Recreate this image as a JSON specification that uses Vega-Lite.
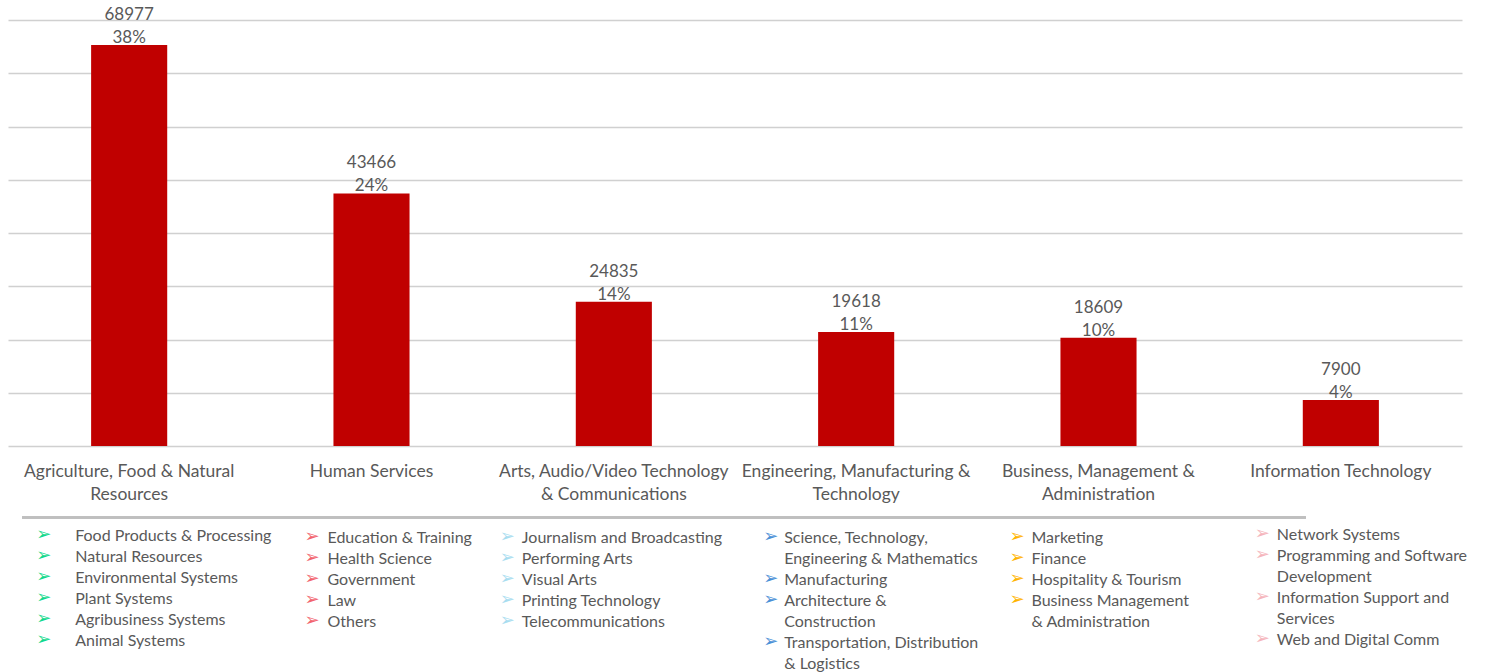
{
  "$schema": "https://vega.github.io/schema/vega-lite/v6.json",
  "autosize": {"type": "none"},
  "padding": {"left": 8, "top": 20, "right": 25, "bottom": 0},
  "width": 1454,
  "height": 652,
  "background": "white",
  "config": {"font": "Lato", "view": {"stroke": null}},
  "datasets": {
    "bars": [
      {"category": "Agriculture, Food & Natural Resources", "value": 68977, "pct": "38%"},
      {"category": "Human Services", "value": 43466, "pct": "24%"},
      {"category": "Arts, Audio/Video Technology & Communications", "value": 24835, "pct": "14%"},
      {"category": "Engineering, Manufacturing & Technology", "value": 19618, "pct": "11%"},
      {"category": "Business, Management & Administration", "value": 18609, "pct": "10%"},
      {"category": "Information Technology", "value": 7900, "pct": "4%"}
    ],
    "items": [
      {"category": "Agriculture, Food & Natural Resources", "line": 0, "item": "Food Products & Processing"},
      {"category": "Agriculture, Food & Natural Resources", "line": 1, "item": "Natural Resources"},
      {"category": "Agriculture, Food & Natural Resources", "line": 2, "item": "Environmental Systems"},
      {"category": "Agriculture, Food & Natural Resources", "line": 3, "item": "Plant Systems"},
      {"category": "Agriculture, Food & Natural Resources", "line": 4, "item": "Agribusiness Systems"},
      {"category": "Agriculture, Food & Natural Resources", "line": 5, "item": "Animal Systems"},
      {"category": "Human Services", "line": 0, "item": "Education & Training"},
      {"category": "Human Services", "line": 1, "item": "Health Science"},
      {"category": "Human Services", "line": 2, "item": "Government"},
      {"category": "Human Services", "line": 3, "item": "Law"},
      {"category": "Human Services", "line": 4, "item": "Others"},
      {"category": "Arts, Audio/Video Technology & Communications", "line": 0, "item": "Journalism and Broadcasting"},
      {"category": "Arts, Audio/Video Technology & Communications", "line": 1, "item": "Performing Arts"},
      {"category": "Arts, Audio/Video Technology & Communications", "line": 2, "item": "Visual Arts"},
      {"category": "Arts, Audio/Video Technology & Communications", "line": 3, "item": "Printing Technology"},
      {"category": "Arts, Audio/Video Technology & Communications", "line": 4, "item": "Telecommunications"},
      {"category": "Engineering, Manufacturing & Technology", "line": 0, "item": "Science, Technology,\nEngineering & Mathematics"},
      {"category": "Engineering, Manufacturing & Technology", "line": 2, "item": "Manufacturing"},
      {"category": "Engineering, Manufacturing & Technology", "line": 3, "item": "Architecture &\nConstruction"},
      {"category": "Engineering, Manufacturing & Technology", "line": 5, "item": "Transportation, Distribution\n& Logistics"},
      {"category": "Business, Management & Administration", "line": 0, "item": "Marketing"},
      {"category": "Business, Management & Administration", "line": 1, "item": "Finance"},
      {"category": "Business, Management & Administration", "line": 2, "item": "Hospitality & Tourism"},
      {"category": "Business, Management & Administration", "line": 3, "item": "Business Management\n& Administration"},
      {"category": "Information Technology", "line": 0, "item": "Network Systems"},
      {"category": "Information Technology", "line": 1, "item": "Programming and Software\nDevelopment"},
      {"category": "Information Technology", "line": 3, "item": "Information Support and\nServices"},
      {"category": "Information Technology", "line": 5, "item": "Web and Digital Comm"}
    ]
  },
  "resolve": {"scale": {"y": "independent", "color": "independent"}, "axis": {"x": "independent", "y": "independent"}},
  "layer": [
    {
      "data": {"name": "bars"},
      "encoding": {
        "x": {"field": "category", "type": "nominal", "sort": null,
          "scale": {"paddingInner": 0.686, "paddingOuter": 0.343},
          "axis": {"title": null, "orient": "bottom", "offset": -226, "domain": false, "ticks": false,
            "labelAngle": 0, "labelFontSize": 17.5, "labelColor": "#595959", "labelPadding": 16,
            "labelLineHeight": 23, "labelLimit": 300, "labelBaseline": "top",
            "labelExpr": "datum.value == 'Agriculture, Food & Natural Resources' ? ['Agriculture, Food & Natural', 'Resources'] : datum.value == 'Arts, Audio/Video Technology & Communications' ? ['Arts, Audio/Video Technology', '& Communications'] : datum.value == 'Engineering, Manufacturing & Technology' ? ['Engineering, Manufacturing &', 'Technology'] : datum.value == 'Business, Management & Administration' ? ['Business, Management &', 'Administration'] : datum.label"}},
        "y": {"field": "value", "type": "quantitative",
          "scale": {"domain": [0, 73300], "range": [426, 0], "nice": false, "zero": true},
          "axis": {"title": null, "labels": false, "ticks": false, "domain": false, "grid": true,
            "gridColor": "#D0D0D0", "gridWidth": 1.4,
            "values": [0, 9162.5, 18325, 27487.5, 36650, 45812.5, 54975, 64137.5, 73300]}}
      },
      "layer": [
        {"mark": {"type": "bar", "color": "#C00000"}},
        {"mark": {"type": "text", "baseline": "middle", "dy": -30, "fontSize": 17, "color": "#595959"},
          "encoding": {"x": {"field": "category", "type": "nominal", "sort": null, "bandPosition": 0.5}, "text": {"field": "value", "type": "quantitative", "format": "d"}}},
        {"mark": {"type": "text", "baseline": "middle", "dy": -7, "fontSize": 17, "color": "#595959"},
          "encoding": {"x": {"field": "category", "type": "nominal", "sort": null, "bandPosition": 0.5}, "text": {"field": "pct", "type": "nominal"}}}
      ]
    },
    {
      "data": {"name": "items"},
      "encoding": {
        "x": {"field": "category", "type": "nominal", "sort": null, "bandPosition": 0.5, "axis": null},
        "y": {"field": "line", "type": "quantitative", "scale": {"domain": [0, 6], "range": [508, 634], "nice": false, "zero": false}, "axis": null},
        "color": {"field": "category", "type": "nominal", "legend": null,
          "scale": {"domain": ["Agriculture, Food & Natural Resources", "Human Services", "Arts, Audio/Video Technology & Communications", "Engineering, Manufacturing & Technology", "Business, Management & Administration", "Information Technology"],
            "range": ["#10D98C", "#F2646E", "#A9DDF0", "#4A8FD6", "#FFB400", "#F5B5BC"]}}
      },
      "layer": [
        {"mark": {"type": "rule", "color": "#BFBFBF", "strokeWidth": 1.5, "xOffset": -107, "x2Offset": -35},
          "encoding": {"x": {"datum": "Agriculture, Food & Natural Resources", "type": "nominal", "bandPosition": 0.5}, "x2": {"datum": "Information Technology"}, "y": {"datum": -0.5, "type": "quantitative"}, "color": {"value": "#BFBFBF"}}},
        {"transform": [{"filter": "datum.category == 'Agriculture, Food & Natural Resources'"}],
          "layer": [
            {"mark": {"type": "text", "align": "left", "baseline": "top", "dx": -54, "fontSize": 16, "lineHeight": 21, "lineBreak": "\n"}, "encoding": {"text": {"field": "item"}, "color": {"value": "#595959"}}},
            {"mark": {"type": "text", "align": "left", "baseline": "top", "dx": -93, "dy": -2, "font": "DejaVu Sans", "fontSize": 18}, "encoding": {"text": {"value": "➢"}}}
          ]},
        {"transform": [{"filter": "datum.category == 'Human Services'"}],
          "layer": [
            {"mark": {"type": "text", "align": "left", "baseline": "top", "dx": -44, "dy": 2, "fontSize": 16, "lineHeight": 21, "lineBreak": "\n"}, "encoding": {"text": {"field": "item"}, "color": {"value": "#595959"}}},
            {"mark": {"type": "text", "align": "left", "baseline": "top", "dx": -67, "font": "DejaVu Sans", "fontSize": 18}, "encoding": {"text": {"value": "➢"}}}
          ]},
        {"transform": [{"filter": "datum.category == 'Arts, Audio/Video Technology & Communications'"}],
          "layer": [
            {"mark": {"type": "text", "align": "left", "baseline": "top", "dx": -92, "dy": 2, "fontSize": 16, "lineHeight": 21, "lineBreak": "\n"}, "encoding": {"text": {"field": "item"}, "color": {"value": "#595959"}}},
            {"mark": {"type": "text", "align": "left", "baseline": "top", "dx": -114, "font": "DejaVu Sans", "fontSize": 18}, "encoding": {"text": {"value": "➢"}}}
          ]},
        {"transform": [{"filter": "datum.category == 'Engineering, Manufacturing & Technology'"}],
          "layer": [
            {"mark": {"type": "text", "align": "left", "baseline": "top", "dx": -72, "dy": 2, "fontSize": 16, "lineHeight": 21, "lineBreak": "\n"}, "encoding": {"text": {"field": "item"}, "color": {"value": "#595959"}}},
            {"mark": {"type": "text", "align": "left", "baseline": "top", "dx": -93, "font": "DejaVu Sans", "fontSize": 18}, "encoding": {"text": {"value": "➢"}}}
          ]},
        {"transform": [{"filter": "datum.category == 'Business, Management & Administration'"}],
          "layer": [
            {"mark": {"type": "text", "align": "left", "baseline": "top", "dx": -67, "dy": 2, "fontSize": 16, "lineHeight": 21, "lineBreak": "\n"}, "encoding": {"text": {"field": "item"}, "color": {"value": "#595959"}}},
            {"mark": {"type": "text", "align": "left", "baseline": "top", "dx": -89, "font": "DejaVu Sans", "fontSize": 18}, "encoding": {"text": {"value": "➢"}}}
          ]},
        {"transform": [{"filter": "datum.category == 'Information Technology'"}],
          "layer": [
            {"mark": {"type": "text", "align": "left", "baseline": "top", "dx": -64, "dy": -1, "fontSize": 16, "lineHeight": 21, "lineBreak": "\n"}, "encoding": {"text": {"field": "item"}, "color": {"value": "#595959"}}},
            {"mark": {"type": "text", "align": "left", "baseline": "top", "dx": -86, "dy": -3, "font": "DejaVu Sans", "fontSize": 18}, "encoding": {"text": {"value": "➢"}}}
          ]}
      ]
    }
  ]
}
